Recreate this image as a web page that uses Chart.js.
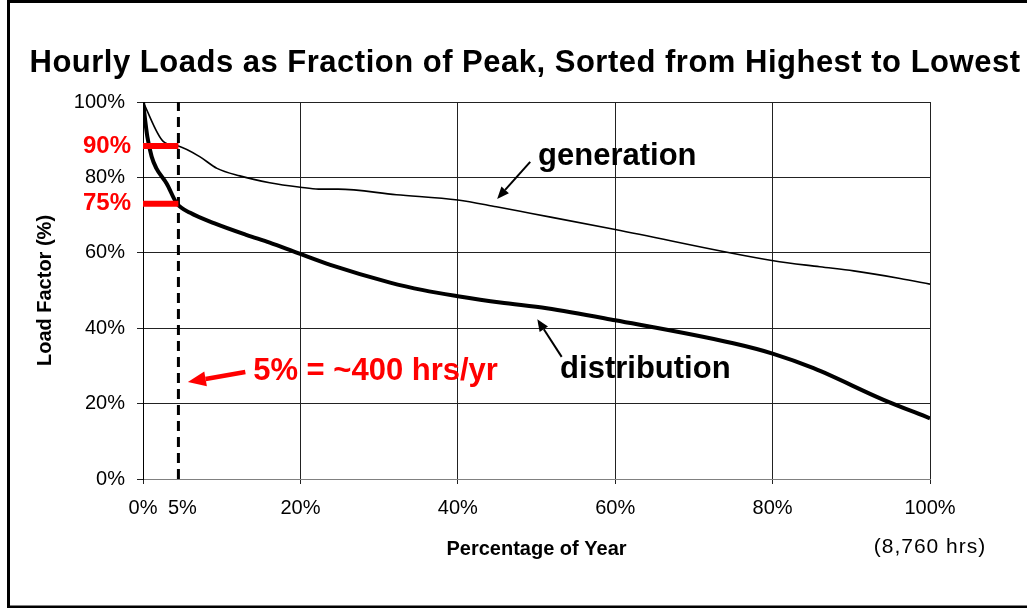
<!DOCTYPE html>
<html>
<head>
<meta charset="utf-8">
<title>Hourly Loads as Fraction of Peak</title>
<script src="https://cdn.jsdelivr.net/npm/chart.js@4.4.1/dist/chart.umd.min.js"></script>
<style>
  html, body { margin: 0; padding: 0; background: #fff; }
  #wrap { width: 1027px; height: 608px; }
  canvas { display: block; }
</style>
</head>
<body>
<div id="wrap"><canvas id="load-duration-graph" width="1027" height="608"></canvas></div>
<script>
// percentage of year (x) and load as % of peak (y)
const genX  = [0, 2.6, 4.5, 7.2, 9.4, 12.3, 16.1, 20, 22.3, 24.8, 32.2, 40, 44.9, 49.2, 60, 80.1, 86, 90.3, 96.2, 100];
const genY  = [100, 89.5, 88.3, 85.5, 82.4, 80.4, 78.6, 77.4, 76.9, 76.9, 75.4, 74.0, 72.2, 70.5, 66.2, 57.9, 56.3, 55.2, 53.2, 51.7];
const distX = [0, 0.55, 1.1, 1.7, 3.0, 4.3, 6.0, 9.1, 13.2, 16.1, 19.7, 23.8, 31.4, 35.6, 40, 45.4, 51.3, 60, 75, 80.1, 85.2, 94.1, 100];
const distY = [100, 90.8, 85.5, 82.4, 78.4, 73.1, 70.6, 67.8, 64.7, 62.7, 59.9, 56.8, 52.1, 50.1, 48.5, 46.8, 45.3, 42.1, 36.0, 33.2, 29.4, 21.0, 16.1];

// the top 5% marker and the two levels where the curves cross it
const cutoffX = 4.5;
const markY = [88.3, 73.0];
const markLabels = ['90%', '75%'];

const xTicks = [0, 5, 20, 40, 60, 80, 100];
const yTicks = [0, 20, 40, 60, 80, 100];

const FONT = "'Liberation Sans', Arial, sans-serif";
const RED = '#ff0000';

Chart.defaults.font.family = FONT;
Chart.defaults.color = '#000';

function toPoints(xs, ys) {
  return xs.map((x, i) => ({ x: x, y: ys[i] }));
}

function drawArrow(ctx, x1, y1, x2, y2, color, width, headLen, headW) {
  const ang = Math.atan2(y2 - y1, x2 - x1);
  const bx = x2 - headLen * Math.cos(ang);
  const by = y2 - headLen * Math.sin(ang);
  ctx.save();
  ctx.strokeStyle = color;
  ctx.fillStyle = color;
  ctx.lineWidth = width;
  ctx.beginPath();
  ctx.moveTo(x1, y1);
  ctx.lineTo(bx, by);
  ctx.stroke();
  ctx.beginPath();
  ctx.moveTo(x2, y2);
  ctx.lineTo(bx + headW / 2 * Math.sin(ang), by - headW / 2 * Math.cos(ang));
  ctx.lineTo(bx - headW / 2 * Math.sin(ang), by + headW / 2 * Math.cos(ang));
  ctx.closePath();
  ctx.fill();
  ctx.restore();
}

function drawText(ctx, text, x, y, font, color, align, baseline, spacing) {
  ctx.save();
  ctx.font = font;
  ctx.fillStyle = color;
  ctx.textAlign = align;
  ctx.textBaseline = baseline;
  if (spacing) ctx.letterSpacing = spacing;
  ctx.fillText(text, x, y);
  ctx.restore();
}

const notesPlugin = {
  id: 'notes',
  beforeDraw(chart) {
    const ctx = chart.ctx;
    ctx.save();
    ctx.fillStyle = '#fff';
    ctx.fillRect(0, 0, chart.width, chart.height);
    ctx.strokeStyle = '#000';
    ctx.lineWidth = 3;
    ctx.strokeRect(8.5, 1.5, chart.width + 20, chart.height - 2.5);
    ctx.restore();

    drawText(ctx, 'Hourly Loads as Fraction of Peak, Sorted from Highest to Lowest',
      525, 63, 'bold 31px ' + FONT, '#000', 'center', 'middle', '0.5px');
  },
  afterDatasetsDraw(chart) {
    const ctx = chart.ctx;
    const xs = chart.scales.x;
    const ys = chart.scales.y;
    const px = v => xs.getPixelForValue(v);
    const py = v => ys.getPixelForValue(v);
    const area = chart.chartArea;

    markLabels.forEach((lbl, i) => {
      drawText(ctx, lbl, area.left - 12, py(markY[i]), 'bold 24px ' + FONT, RED, 'right', 'middle');
    });

    drawText(ctx, 'generation', px(50.2), py(83.3), 'bold 31px ' + FONT, '#000', 'left', 'alphabetic');
    drawArrow(ctx, px(49.2), py(84.1), px(45.0), py(74.3), '#000', 2, 12, 10);

    drawText(ctx, 'distribution', px(53.0), py(26.8), 'bold 31px ' + FONT, '#000', 'left', 'alphabetic');
    drawArrow(ctx, px(53.2), py(32.4), px(50.1), py(42.4), '#000', 2, 12, 10);

    drawText(ctx, '5% = ~400 hrs/yr', px(14.0), py(26.3), 'bold 31px ' + FONT, RED, 'left', 'alphabetic');
    drawArrow(ctx, px(13.0), py(28.4), px(5.7), py(25.7), RED, 4.5, 18, 15);

    drawText(ctx, '(8,760 hrs)', px(100), 547, '21px ' + FONT, '#000', 'center', 'middle', '1px');
  }
};

const ctx = document.getElementById('load-duration-graph').getContext('2d');

const loadGraph = new Chart(ctx, {
  type: 'line',
  data: {
    datasets: [
      {
        label: '90%',
        data: [{ x: 0, y: markY[0] }, { x: cutoffX, y: markY[0] }],
        borderColor: RED,
        borderWidth: 6,
        pointRadius: 0,
        borderCapStyle: 'butt'
      },
      {
        label: '75%',
        data: [{ x: 0, y: markY[1] }, { x: cutoffX, y: markY[1] }],
        borderColor: RED,
        borderWidth: 6,
        pointRadius: 0,
        borderCapStyle: 'butt'
      },
      {
        label: 'top 5%',
        data: [{ x: cutoffX, y: 0 }, { x: cutoffX, y: 100 }],
        borderColor: '#000',
        borderWidth: 3,
        borderDash: [10, 6],
        pointRadius: 0
      },
      {
        label: 'generation',
        data: toPoints(genX, genY),
        borderColor: '#000',
        borderWidth: 1.6,
        pointRadius: 0,
        cubicInterpolationMode: 'monotone'
      },
      {
        label: 'distribution',
        data: toPoints(distX, distY),
        borderColor: '#000',
        borderWidth: 4,
        pointRadius: 0,
        cubicInterpolationMode: 'monotone'
      }
    ]
  },
  options: {
    responsive: false,
    animation: false,
    layout: {
      padding: { top: 102, right: 97, bottom: 0, left: 0 }
    },
    scales: {
      x: {
        type: 'linear',
        min: 0,
        max: 100,
        afterBuildTicks: scale => { scale.ticks = xTicks.map(v => ({ value: v })); },
        afterFit: scale => { scale.height = 129; },
        ticks: {
          autoSkip: false,
          maxRotation: 0,
          padding: 12,
          font: { size: 20 },
          callback: v => v + '%'
        },
        grid: {
          color: c => (c.tick && c.tick.value === 5) ? 'rgba(0,0,0,0)' : '#222',
          lineWidth: 1,
          tickLength: 5
        },
        border: { color: '#808080', width: 1 },
        title: {
          display: true,
          text: 'Percentage of Year',
          font: { size: 20, weight: 'bold' },
          padding: { top: 0, bottom: 47 }
        }
      },
      y: {
        min: 0,
        max: 100,
        afterBuildTicks: scale => { scale.ticks = yTicks.map(v => ({ value: v })); },
        afterFit: scale => { scale.width = 143; },
        ticks: {
          padding: 12,
          font: { size: 20 },
          callback: v => v + '%'
        },
        grid: {
          color: '#222',
          lineWidth: 1,
          tickLength: 6
        },
        border: { color: '#000', width: 1 },
        title: {
          display: true,
          text: 'Load Factor (%)',
          font: { size: 20, weight: 'bold' },
          padding: { top: 33, bottom: 0 }
        }
      }
    },
    plugins: {
      legend: { display: false },
      tooltip: { enabled: false },
      title: { display: false }
    }
  },
  plugins: [notesPlugin]
});
</script>
</body>
</html>
